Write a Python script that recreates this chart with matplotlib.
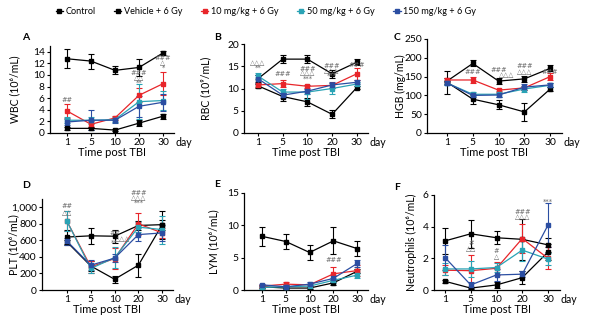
import matplotlib
matplotlib.use('Agg')
import numpy as np
import matplotlib.pyplot as plt
from matplotlib.ticker import FuncFormatter

plt.rcParams['font.family'] = ['Lato', 'DejaVu Sans']

W, H = 596, 330
days = ['1', '5', '10', '20', '30']
groups = ['Control', 'Vehicle + 6 Gy', '10 mg/kg + 6 Gy', '50 mg/kg + 6 Gy', '150 mg/kg + 6 Gy']
colors = ['black', 'black', '#e8252a', '#2aa3b5', '#2b4ea2']

# WBC (10^6/mL)
wbc_ctrl = [12.8, 12.4, 10.8, 11.3, 13.8]
wbc_veh = [0.8, 0.8, 0.5, 1.7, 2.9]
wbc_10 = [3.8, 1.5, 2.6, 6.5, 8.5]
wbc_50 = [2.2, 2.2, 2.3, 5.4, 5.6]
wbc_150 = [1.9, 2.2, 2.2, 4.6, 5.3]
wbc_err = [[1.6, 1.3, 0.7, 1.5, 0.3], [0.2, 0.2, 0.2, 0.5, 0.4], [1.2, 0.5, 0.4, 1.2, 2.0],
           [0.5, 0.6, 0.4, 3.0, 1.7], [0.5, 1.7, 0.4, 1.8, 1.5]]

# RBC (10^9/mL)
rbc_ctrl = [12.2, 16.6, 16.6, 13.3, 15.9]
rbc_veh = [10.6, 8.2, 7.0, 4.2, 10.2]
rbc_10 = [10.8, 11.1, 10.5, 10.7, 13.3]
rbc_50 = [12.8, 9.2, 9.2, 10.0, 11.0]
rbc_150 = [12.2, 8.5, 9.4, 10.8, 11.4]
rbc_err = [[0.8, 0.9, 0.9, 0.9, 0.7], [0.4, 0.9, 0.9, 0.9, 0.4], [0.4, 0.7, 0.3, 0.6, 1.3],
           [0.6, 0.6, 1.5, 1.2, 0.5], [0.9, 0.6, 0.6, 0.7, 0.5]]

# HGB (mg/mL)
hgb_ctrl = [138, 185, 138, 144, 172]
hgb_veh = [135, 90, 75, 56, 117]
hgb_10 = [141, 141, 114, 120, 150]
hgb_50 = [133, 103, 103, 117, 127]
hgb_150 = [133, 100, 101, 122, 128]
hgb_err = [[8, 8, 8, 8, 8], [30, 12, 12, 23, 5], [5, 8, 4, 6, 10],
           [5, 5, 8, 8, 5], [5, 4, 5, 8, 5]]

# PLT (10^6/mL)
plt_ctrl = [640, 655, 650, 780, 790]
plt_veh = [580, 290, 130, 300, 790]
plt_10 = [830, 280, 380, 800, 690]
plt_50 = [830, 260, 390, 760, 730]
plt_150 = [590, 300, 385, 670, 690]
plt_err = [[80, 100, 80, 60, 170], [30, 60, 40, 140, 60], [120, 70, 130, 130, 60],
           [120, 60, 130, 60, 170], [40, 60, 50, 80, 100]]

# LYM (10^6/mL)
lym_ctrl = [8.3, 7.5, 5.8, 7.6, 6.4]
lym_veh = [0.5, 0.3, 0.3, 1.1, 2.9]
lym_10 = [0.6, 0.9, 0.8, 2.5, 3.0]
lym_50 = [0.4, 0.5, 0.6, 1.5, 2.3]
lym_150 = [0.8, 0.5, 0.9, 1.8, 4.1]
lym_err = [[1.5, 1.2, 1.2, 2.1, 1.2], [0.2, 0.1, 0.1, 0.4, 0.3], [0.2, 0.3, 0.2, 1.0, 0.8],
           [0.2, 0.2, 0.2, 0.4, 0.4], [0.2, 0.2, 0.3, 0.5, 0.6]]

# Neutrophils (10^6/mL)
neu_ctrl = [3.1, 3.55, 3.3, 3.2, 2.85]
neu_veh = [0.55, 0.12, 0.32, 0.78, 2.4]
neu_10 = [1.25, 1.22, 1.37, 3.25, 2.0]
neu_50 = [1.33, 1.33, 1.42, 2.52, 1.95]
neu_150 = [2.05, 0.32, 0.95, 1.0, 4.1]
neu_err = [[0.8, 0.9, 0.4, 1.3, 0.45], [0.1, 0.05, 0.2, 0.4, 0.5], [0.3, 1.0, 0.4, 0.9, 0.7],
           [0.4, 0.5, 0.3, 0.7, 0.4], [0.8, 0.2, 0.4, 0.2, 1.4]]

# significance marks: (day index, y, text)
wbc_sig = [(0, 5.7, '##'), (3, 10.4, '###'), (3, 9.5, '△△'), (3, 8.7, '**'),
           (4, 13.0, '###'), (4, 12.0, '△'), (4, 11.2, '*')]
rbc_sig = [(0, 15.7, '△△△'), (0, 14.6, '**'), (1, 13.2, '###'), (2, 14.4, '###'),
           (2, 13.4, '△△△'), (2, 12.3, '***'), (3, 15.1, '###'), (3, 14.0, '△△△'),
           (3, 12.9, '***'), (4, 15.3, '###')]
hgb_sig = [(1, 163, '###'), (2, 168, '###'), (2.3, 153, '△△△'), (3, 178, '###'),
           (3, 163, '△△△'), (4, 163, '###')]
plt_sig = [(0, 1010, '##'), (0, 930, '△△'), (2, 690, '##'), (2.35, 620, '△△△'),
           (2, 570, '**'), (3, 1170, '###'), (3, 1110, '△△△'), (3, 1050, '***')]
lym_sig = [(3, 4.6, '###')]
neu_sig = [(1, 2.95, '#'), (1, 2.57, '△△'), (2, 2.48, '#'), (2, 2.1, '△'),
           (3, 4.95, '###'), (3, 4.6, '△△△'), (4, 5.6, '***')]

# panel layout in pixels: left spine, top, bottom, x of first day, day spacing, ylabel x
panels = [
    ('A', 'WBC (10⁶/mL)', [wbc_ctrl, wbc_veh, wbc_10, wbc_50, wbc_150], wbc_err, wbc_sig,
     (0, 15), np.arange(0, 15, 2), (50, 46, 133, 67, 24.0, 15), (22, 38)),
    ('B', 'RBC (10⁹/mL)', [rbc_ctrl, rbc_veh, rbc_10, rbc_50, rbc_150], rbc_err, rbc_sig,
     (0, 20), np.arange(0, 21, 5), (244, 44, 133, 258, 24.7, 206), (214, 37)),
    ('C', 'HGB (mg/mL)', [hgb_ctrl, hgb_veh, hgb_10, hgb_50, hgb_150], hgb_err, hgb_sig,
     (0, 250), np.arange(0, 251, 50), (427, 39, 133, 447, 25.8, 400), (394, 37)),
    ('D', 'PLT (10⁶/mL)', [plt_ctrl, plt_veh, plt_10, plt_50, plt_150], plt_err, plt_sig,
     (0, 1100), np.arange(0, 1001, 200), (42, 199, 290, 67, 23.8, 14), (22, 186)),
    ('E', 'LYM (10⁶/mL)', [lym_ctrl, lym_veh, lym_10, lym_50, lym_150], lym_err, lym_sig,
     (0, 15), np.arange(0, 16, 5), (244, 193, 290, 262, 23.8, 214), (214, 185)),
    ('F', 'Neutrophils (10⁶/mL)', [neu_ctrl, neu_veh, neu_10, neu_50, neu_150], neu_err, neu_sig,
     (0, 6), np.arange(0, 7, 2), (434, 195, 290, 445, 25.75, 411), (394, 187)),
]

fig = plt.figure(figsize=(W / 100, H / 100), dpi=100)
x = np.arange(len(days))

for letter, ylabel, series, errs, sigs, ylim, yticks, box, lpos in panels:
    left, top, bottom, x0, dx, lab_x = box
    xmin = -(x0 - left) / dx
    xmax = 4.45
    width = (xmax - xmin) * dx
    ax = fig.add_axes([left / W, 1 - bottom / H, width / W, (bottom - top) / H])
    for vals, err, col in zip(series, errs, colors):
        ax.errorbar(x, vals, yerr=err, color=col, lw=0.9, marker='s', ms=2.6,
                    capsize=2.0, elinewidth=0.8, capthick=0.8, zorder=3)
    for xi, yi, s in sigs:
        ax.text(xi, yi, s, ha='center', va='center', fontsize=4.8, color='#666666',
                family=['DejaVu Sans'], clip_on=False, zorder=5)
    ax.set_xlim(xmin, xmax)
    ax.set_ylim(*ylim)
    ax.set_yticks(yticks)
    if letter == 'D':
        ax.yaxis.set_major_formatter(FuncFormatter(lambda v, p: f'{int(v):,}'))
    ax.set_xticks(x)
    ax.set_xticklabels(days)
    ax.spines['top'].set_visible(False)
    ax.spines['right'].set_visible(False)
    ax.spines['left'].set_linewidth(0.9)
    ax.spines['bottom'].set_linewidth(0.9)
    ax.tick_params(length=2.5, width=0.8, labelsize=7.4, pad=1.2)
    ax.set_ylabel(ylabel, fontsize=7.6, va='center')
    ax.yaxis.set_label_coords((lab_x - left) / width, 0.5)
    ax.set_xlabel('Time post TBI', fontsize=8, labelpad=0)
    # unit label to the right of the last day tick
    ax.text(4.5, -0.045, 'day', transform=ax.get_xaxis_transform(), ha='left', va='top',
            fontsize=7.6)
    fig.text(lpos[0] / W, 1 - lpos[1] / H, letter, fontsize=7.5, fontweight='bold',
             ha='left', va='center')

handles = [plt.Line2D([0], [0], color=c, lw=0.9, marker='s', ms=2.2) for c in colors]
fig.legend(handles, groups, loc='upper center', bbox_to_anchor=(266 / W, 0.995), ncol=5,
           frameon=False, fontsize=6.6, handlelength=0.8, handletextpad=0.3,
           columnspacing=2.0, borderaxespad=0.2)

fig.savefig('out.png', dpi=100)
